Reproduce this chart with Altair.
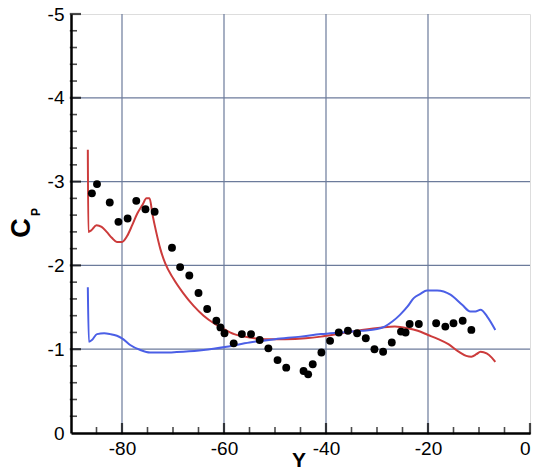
import altair as alt
import pandas as pd

# Experimental points
pts_x = [-85.9, -84.9, -82.4, -80.7, -78.9, -77.2, -75.4, -73.6, -70.2, -68.6,
         -66.8, -65.0, -63.3, -61.5, -60.7, -59.9, -58.1, -56.5, -54.7, -53.0,
         -51.3, -49.5, -47.8, -44.4, -43.5, -42.6, -40.9, -39.2, -37.5, -35.7,
         -33.9, -32.2, -30.5, -28.8, -27.1, -25.3, -24.4, -23.6, -21.8, -18.4,
         -16.6, -15.0, -13.2, -11.5]
pts_y = [-2.86, -2.97, -2.75, -2.52, -2.56, -2.77, -2.67, -2.64, -2.21, -1.98,
         -1.88, -1.67, -1.48, -1.34, -1.26, -1.19, -1.07, -1.18, -1.18, -1.11,
         -1.01, -0.87, -0.78, -0.74, -0.70, -0.82, -0.96, -1.10, -1.20, -1.22,
         -1.19, -1.13, -1.00, -0.97, -1.08, -1.21, -1.20, -1.30, -1.30, -1.31,
         -1.27, -1.31, -1.34, -1.23]

# Red computed curve
red_x = [-86.7, -86.6, -86.0, -85.0, -84.0, -83.0, -82.0, -81.0, -80.0, -79.0,
         -78.0, -77.0, -76.0, -75.2, -74.6, -74.0, -73.3, -72.5, -71.5, -70.0,
         -68.0, -66.0, -64.0, -62.0, -60.0, -58.0, -55.0, -52.0, -48.0, -44.0,
         -41.0, -37.0, -33.0, -29.0, -26.5, -24.0, -22.0, -20.0, -18.0, -16.0,
         -14.0, -12.5, -11.5, -10.5, -9.7, -8.5, -7.5, -6.8]
red_y = [-3.38, -2.40, -2.42, -2.48, -2.46, -2.40, -2.33, -2.28, -2.28, -2.35,
         -2.48, -2.62, -2.72, -2.80, -2.80, -2.60, -2.40, -2.20, -2.02, -1.85,
         -1.67, -1.52, -1.40, -1.31, -1.24, -1.18, -1.14, -1.12, -1.12, -1.13,
         -1.15, -1.19, -1.23, -1.26, -1.27, -1.25, -1.22, -1.17, -1.12, -1.06,
         -0.97, -0.92, -0.91, -0.94, -0.97, -0.95, -0.90, -0.85]

# Blue computed curve
blue_x = [-86.7, -86.5, -85.9, -84.9, -83.5, -82.3, -81.0, -80.0, -78.4, -76.4,
          -74.5, -72.0, -68.0, -64.0, -59.5, -55.0, -50.0, -45.0, -41.0, -37.0,
          -33.0, -30.0, -28.5, -27.0, -25.5, -24.0, -22.8, -21.5, -20.2, -18.2,
          -15.6, -13.3, -11.7, -10.7, -9.7, -8.4, -6.8]
blue_y = [-1.74, -1.09, -1.11, -1.18, -1.19, -1.18, -1.16, -1.13, -1.05, -0.99,
          -0.96, -0.96, -0.97, -0.99, -1.03, -1.08, -1.12, -1.15, -1.18, -1.20,
          -1.22, -1.24, -1.27, -1.33, -1.41, -1.51, -1.61, -1.66, -1.70, -1.70,
          -1.65, -1.53, -1.45, -1.45, -1.47, -1.39, -1.23]

x_labels = [-80, -60, -40, -20, 0]
y_labels = [-5, -4, -3, -2, -1, 0]
x_grid = [-80, -60, -40, -20]
y_grid = [-4, -3, -2, -1]
x_major_ticks = [-80, -60, -40, -20, 0]
x_minor_ticks = [-85, -75, -70, -65, -55, -50, -45, -35, -30, -25, -15, -10, -5]
y_major_ticks = [-5, -4, -3, -2, -1]
y_minor_ticks = [-4.8, -4.6, -4.4, -4.2, -3.8, -3.6, -3.4, -3.2, -2.8, -2.6, -2.4,
                 -2.2, -1.8, -1.6, -1.4, -1.2, -0.8, -0.6, -0.4, -0.2]

W, H = 459, 419
FONT = "Liberation Sans"
LBL = "datum.value == 0 ? '0' : '-' + format(abs(datum.value), 'd')"

xs = alt.Scale(domain=[-90, 0], nice=False, zero=False)
ys = alt.Scale(domain=[-5, 0], reverse=True, nice=False, zero=False)

x_axis = alt.Axis(values=x_labels, grid=False, ticks=False, domainColor="black",
                  domainWidth=2.5, labelFontSize=19, labelFont=FONT, labelColor="black",
                  labelPadding=6, labelExpr=LBL, zindex=2)
y_axis = alt.Axis(values=y_labels, grid=False, ticks=False, domainColor="black",
                  domainWidth=2.5, labelFontSize=19, labelFont=FONT, labelColor="black",
                  labelPadding=7, labelExpr=LBL, zindex=2)

pts = pd.DataFrame({"x": pts_x, "y": pts_y})
red = pd.DataFrame({"x": red_x, "y": red_y, "i": range(len(red_x))})
blue = pd.DataFrame({"x": blue_x, "y": blue_y, "i": range(len(blue_x))})

grid_col = "#6c7b9b"

gx = alt.Chart(pd.DataFrame({"v": x_grid})).mark_rule(color=grid_col, strokeWidth=1.2).encode(
    x=alt.X("v:Q", scale=xs, axis=x_axis, title=""))
gy = alt.Chart(pd.DataFrame({"v": y_grid})).mark_rule(color=grid_col, strokeWidth=1.2).encode(
    y=alt.Y("v:Q", scale=ys, axis=y_axis, title=""))

red_line = alt.Chart(red).mark_line(color="#cc3b3b", strokeWidth=2, interpolate="monotone").encode(
    x=alt.X("x:Q", scale=xs), y=alt.Y("y:Q", scale=ys), order="i:Q")
blue_line = alt.Chart(blue).mark_line(color="#4b5fe6", strokeWidth=2, interpolate="monotone").encode(
    x=alt.X("x:Q", scale=xs), y=alt.Y("y:Q", scale=ys), order="i:Q")
points = alt.Chart(pts).mark_circle(color="black", opacity=1, size=62).encode(
    x=alt.X("x:Q", scale=xs), y=alt.Y("y:Q", scale=ys))

# inward ticks as tick marks (vertical on the bottom edge, horizontal on the left edge)
txm = alt.Chart(pd.DataFrame({"v": x_major_ticks})).mark_tick(
    color="black", thickness=2.2, size=20, orient="vertical").encode(
    x=alt.X("v:Q", scale=xs), y=alt.value(H))
txn = alt.Chart(pd.DataFrame({"v": x_minor_ticks})).mark_tick(
    color="black", thickness=1.6, size=12, orient="vertical").encode(
    x=alt.X("v:Q", scale=xs), y=alt.value(H))
tym = alt.Chart(pd.DataFrame({"v": y_major_ticks})).mark_tick(
    color="black", thickness=2.2, size=20, orient="horizontal").encode(
    y=alt.Y("v:Q", scale=ys), x=alt.value(0))
tyn = alt.Chart(pd.DataFrame({"v": y_minor_ticks})).mark_tick(
    color="black", thickness=1.6, size=12, orient="horizontal").encode(
    y=alt.Y("v:Q", scale=ys), x=alt.value(0))

t_c = alt.Chart(pd.DataFrame({"t": ["C"]})).mark_text(
    font=FONT, fontSize=27, fontWeight="bold", angle=270, color="black",
    align="center", baseline="middle").encode(text="t:N", x=alt.value(-49), y=alt.value(214))
t_p = alt.Chart(pd.DataFrame({"t": ["P"]})).mark_text(
    font=FONT, fontSize=12, fontWeight="bold", angle=270, color="black",
    align="center", baseline="middle").encode(text="t:N", x=alt.value(-35), y=alt.value(198))
t_y = alt.Chart(pd.DataFrame({"t": ["Y"]})).mark_text(
    font=FONT, fontSize=21, fontWeight="bold", color="black",
    align="center", baseline="middle").encode(text="t:N", x=alt.value(228), y=alt.value(447))

# white masks hide the outer half of the centred ticks, so they point inward only
mask_b = alt.Chart(pd.DataFrame({"t": ["m"]})).mark_rect(color="white").encode(
    x=alt.value(-20), x2=alt.value(W + 10), y=alt.value(H + 1.2), y2=alt.value(H + 12))
mask_l = alt.Chart(pd.DataFrame({"t": ["m"]})).mark_rect(color="white").encode(
    x=alt.value(-12), x2=alt.value(-1.2), y=alt.value(-10), y2=alt.value(H))

chart = alt.layer(gx, gy, red_line, blue_line, points, txm, txn, tym, tyn, mask_b, mask_l,
                  t_c, t_p, t_y).properties(
    width=W, height=H,
    autosize=alt.AutoSizeParams(type="none"),
    padding={"left": 71, "top": 14, "right": 10, "bottom": 40},
).configure_view(stroke="#a9bbe0", strokeWidth=1.5).configure(background="white")

chart.save("out.html", embed_options={"renderer": "svg", "actions": False})
